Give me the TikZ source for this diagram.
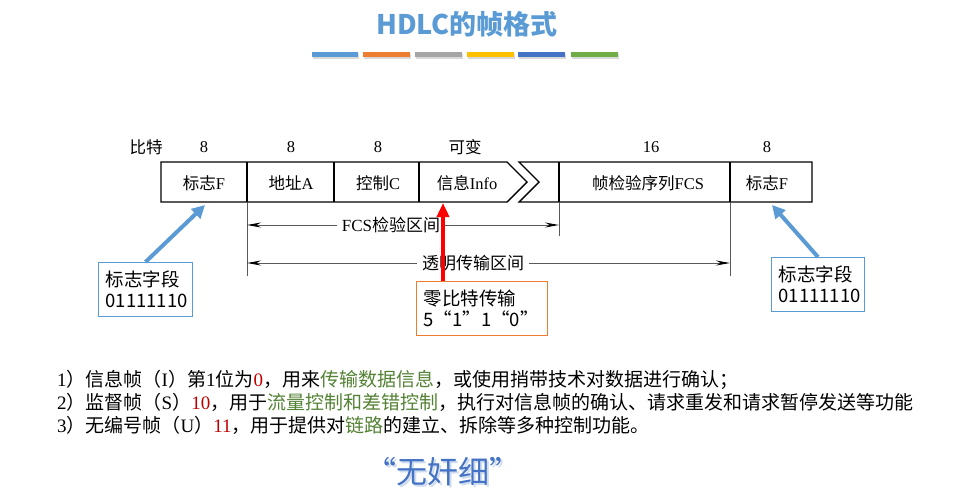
\documentclass[tikz,border=0pt]{standalone}
\usepackage{fontspec}
\setmainfont{Liberation Serif}
\newfontfamily\zhfont{Noto Sans CJK SC}
\usetikzlibrary{arrows.meta,calc}
\newcommand\zt[1]{{\zhfont #1}}
\definecolor{tblue}{RGB}{91,155,213}
\definecolor{torange}{RGB}{237,125,49}
\definecolor{tgray}{RGB}{165,165,165}
\definecolor{tgold}{RGB}{255,192,0}
\definecolor{tdblue}{RGB}{68,114,196}
\definecolor{tgreen}{RGB}{112,173,71}
\definecolor{hred}{RGB}{192,0,0}
\definecolor{hgreen}{RGB}{84,130,53}
\begin{document}
\begin{tikzpicture}[x=1pt,y=-1pt,
  frame/.style={draw=black, line width=1.4pt, line join=miter},
  divider/.style={draw=black, line width=1.2pt},
  tick/.style={draw=black!65, line width=1pt},
  cell/.style={font=\fontsize{16.5}{19}\selectfont, inner sep=0pt},
  span/.style={draw=black!65, line width=1pt,
    {Stealth[length=14pt,width=5pt,black]}-{Stealth[length=14pt,width=5pt,black]}},
  spanlabel/.style={fill=white, font=\fontsize{17}{20}\selectfont, inner xsep=5pt, inner ysep=2pt},
  callout/.style={draw, line width=1pt, align=left, inner xsep=7pt, inner ysep=4pt,
    font=\zhfont\fontsize{18.5}{21}\selectfont, minimum height=54pt, anchor=north west},
  bluearrow/.style={draw=tblue, line width=4pt, -{Triangle[length=13pt,width=13pt,fill=tblue]}},
  redarrow/.style={draw=red, line width=4pt, -{Triangle[length=14pt,width=12pt,fill=red]}},
  note/.style={anchor=base west, inner sep=0pt, font=\fontsize{19}{22}\selectfont}
]
\useasboundingbox[fill=white] (0,0) rectangle (973,501);

% heading and colour strip
\node[text=tblue, font=\zhfont\bfseries\fontsize{27}{30}\selectfont] (title) at (467,24) {HDLC的帧格式};
\foreach \xa/\xb/\c in {312/358/tblue,363/410/torange,415/462/tgray,467/514/tgold,518/565/tdblue,571/618/tgreen}{
  \fill[black!15] (\xa+1,53.5) rectangle (\xb+1,58.5);
  \fill[\c] (\xa,52) rectangle (\xb,57);
}

% frame outline: left part ending in the info arrow, right part with the notch
\draw[frame] (161,162) -- (507,162) -- (527,182) -- (507,202) -- (161,202) -- cycle;
\draw[frame] (519,162) -- (812,162) -- (812,202) -- (519,202) -- (539,182) -- cycle;
\foreach \x in {247,334,419,559,730}{\draw[divider] (\x,162) -- (\x,202);}

% bit counts
\node[cell] (bits) at (146,147) {\zt{比特}};
\node[cell] (b1) at (204,147) {8};
\node[cell] (b2) at (291,147) {8};
\node[cell] (b3) at (378,147) {8};
\node[cell] (b4) at (465,147) {\zt{可变}};
\node[cell] (b5) at (651,147) {16};
\node[cell] (b6) at (767,147) {8};

% field names
\node[cell] (flag1) at (204,183) {\zt{标志}F};
\node[cell] (addr)  at (291,183) {\zt{地址}A};
\node[cell] (ctrl)  at (378,183) {\zt{控制}C};
\node[cell] (info)  at (467,183) {\zt{信息}Info};
\node[cell] (fcs)   at (648,183) {\zt{帧检验序列}FCS};
\node[cell] (flag2) at (767,183) {\zt{标志}F};

% extent ticks below the frame
\draw[tick] (247,202) -- (247,276);
\draw[tick] (559,202) -- (559,236);
\draw[tick] (730,202) -- (730,276);

% spans
\coordinate (fcsL) at (247,225);
\coordinate (fcsR) at (559,225);
\coordinate (trL) at (247,263);
\coordinate (trR) at (730,263);
\draw[span] (fcsL) -- (fcsR);
\draw[span] (trL) -- (trR);
\node[spanlabel] (fcslbl) at (391,225) {FCS\zt{检验区间}};
\node[spanlabel] (trlbl) at (473,263) {\zt{透明传输区间}};

% callouts
\node[callout, draw=tblue, text width=80pt] (lbox) at (98,262) {标志字段\\01111110};
\node[callout, draw=tblue, text width=79pt] (rbox) at (771,257) {标志字段\\01111110};
\node[callout, draw=torange, text width=117pt] (obox) at (416,281) {零比特传输\\5“1”1“0”};

\coordinate (lF) at (205,205);
\coordinate (rF) at (772,205);
\coordinate (zb) at (443,203);
\draw[bluearrow] (lbox.north) -- (lF);
\draw[bluearrow] (rbox.north) -- (rF);
\draw[redarrow] (obox.north -| zb) -- (zb);

% frame type notes
\node[note] (n1) at (57,386) {1\zt{）信息帧（}I\zt{）第}1\zt{位为}\textcolor{hred}{0}\zt{，用来}\textcolor{hgreen}{\zt{传输数据信息}}\zt{，或使用捎带技术对数据进行确认；}};
\node[note] (n2) at (57,409) {2\zt{）监督帧（}S\zt{）}\textcolor{hred}{10}\zt{，用于}\textcolor{hgreen}{\zt{流量控制和差错控制}}\zt{，执行对信息帧的确认、请求重发和请求暂停发送等功能}};
\node[note] (n3) at (57,432) {3\zt{）无编号帧（}U\zt{）}\textcolor{hred}{11}\zt{，用于提供对}\textcolor{hgreen}{\zt{链路}}\zt{的建立、拆除等多种控制功能。}};

% slogan with soft shadow
\node[text=tdblue!25, font=\zhfont\fontsize{31}{34}\selectfont] (sloganshadow) at (445,474) {“无奸细”};
\node[text=tdblue, font=\zhfont\fontsize{31}{34}\selectfont] (slogan) at (443,472) {“无奸细”};
\end{tikzpicture}
\end{document}
